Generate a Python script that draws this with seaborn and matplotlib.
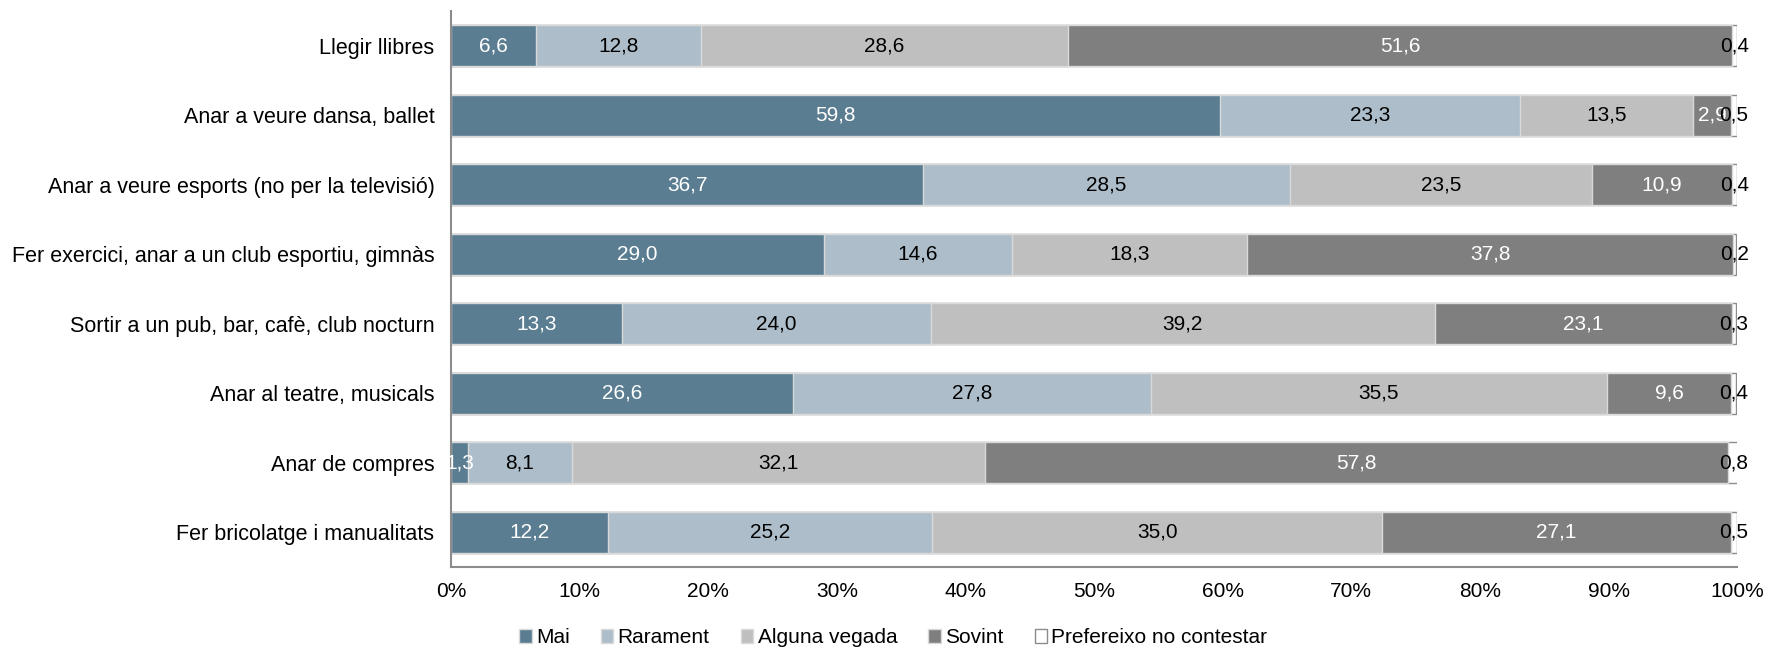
import numpy as np
import pandas as pd
import matplotlib
matplotlib.use("Agg")
import matplotlib.pyplot as plt
import seaborn as sns

# Activitats i percentatges
activitats = ['Llegir llibres', 'Anar a veure dansa, ballet',
              'Anar a veure esports (no per la televisió)',
              'Fer exercici, anar a un club esportiu, gimnàs',
              'Sortir a un pub, bar, cafè, club nocturn',
              'Anar al teatre, musicals', 'Anar de compres',
              'Fer bricolatge i manualitats']
mai = [6.6, 59.8, 36.7, 29.0, 13.3, 26.6, 1.3, 12.2]
rarament = [12.8, 23.3, 28.5, 14.6, 24.0, 27.8, 8.1, 25.2]
alguna_vegada = [28.6, 13.5, 23.5, 18.3, 39.2, 35.5, 32.1, 35.0]
sovint = [51.6, 2.9, 10.9, 37.8, 23.1, 9.6, 57.8, 27.1]
no_contesta = [0.4, 0.5, 0.4, 0.2, 0.3, 0.4, 0.8, 0.5]

series = ['Mai', 'Rarament', 'Alguna vegada', 'Sovint', 'Prefereixo no contestar']
colors = ['#5B7D91', '#ADBECA', '#BFBFBF', '#7F7F7F', '#FFFFFF']
text_colors = ['white', 'black', 'black', 'white', 'black']

df = pd.DataFrame({'Activitat': activitats, 'Mai': mai, 'Rarament': rarament,
                   'Alguna vegada': alguna_vegada, 'Sovint': sovint,
                   'Prefereixo no contestar': no_contesta})
cum = df[series].cumsum(axis=1)

sns.set_style('white')
plt.rcParams['font.family'] = ['Liberation Sans', 'DejaVu Sans']
plt.rcParams['text.color'] = 'black'

fig = plt.figure(figsize=(17.69, 6.53), dpi=100)
ax = fig.add_axes([0.255, 0.132, 0.727, 0.851])

# barres apilades: de la suma total cap a la primera sèrie
for i in range(len(series) - 1, -1, -1):
    s = series[i]
    edge = '#8C8C8C' if i == len(series) - 1 else '#D9D9D9'
    sns.barplot(x=cum[s], y=df['Activitat'], color=colors[i], orient='h',
                width=0.59, edgecolor=edge, linewidth=1.0, ax=ax,
                saturation=1, label=s)

# etiquetes de valor
for i, s in enumerate(series):
    for j in range(len(df)):
        v = df[s].iloc[j]
        xc = cum[s].iloc[j] - v / 2
        ax.text(xc, j, f'{v:.1f}'.replace('.', ','), ha='center', va='center',
                color=text_colors[i], fontsize=15)

ax.set_xlim(0, 100)
ax.set_ylim(7.5, -0.5)
ax.set_xticks(np.arange(0, 101, 10))
ax.set_xticklabels([f'{t}%' for t in range(0, 101, 10)])
ax.set_xlabel('')
ax.set_ylabel('')
ax.tick_params(axis='x', length=0, pad=11, labelsize=15, labelcolor='black')
ax.tick_params(axis='y', length=0, pad=12, labelsize=15.5, labelcolor='black')
for side in ['top', 'right']:
    ax.spines[side].set_visible(False)
for side in ['left', 'bottom']:
    ax.spines[side].set_color('#8C8C8C')
    ax.spines[side].set_linewidth(1.5)

handles, labels = ax.get_legend_handles_labels()
if ax.get_legend() is not None:
    ax.get_legend().remove()
order = [labels.index(s) for s in series]
fig.legend([handles[k] for k in order], series, loc='lower center',
           bbox_to_anchor=(0.505, -0.02), ncol=5, frameon=False,
           fontsize=15, handlelength=0.6, handleheight=0.6,
           handletextpad=0.2, columnspacing=1.5, labelcolor='black')

fig.savefig('out.png', dpi=100)
